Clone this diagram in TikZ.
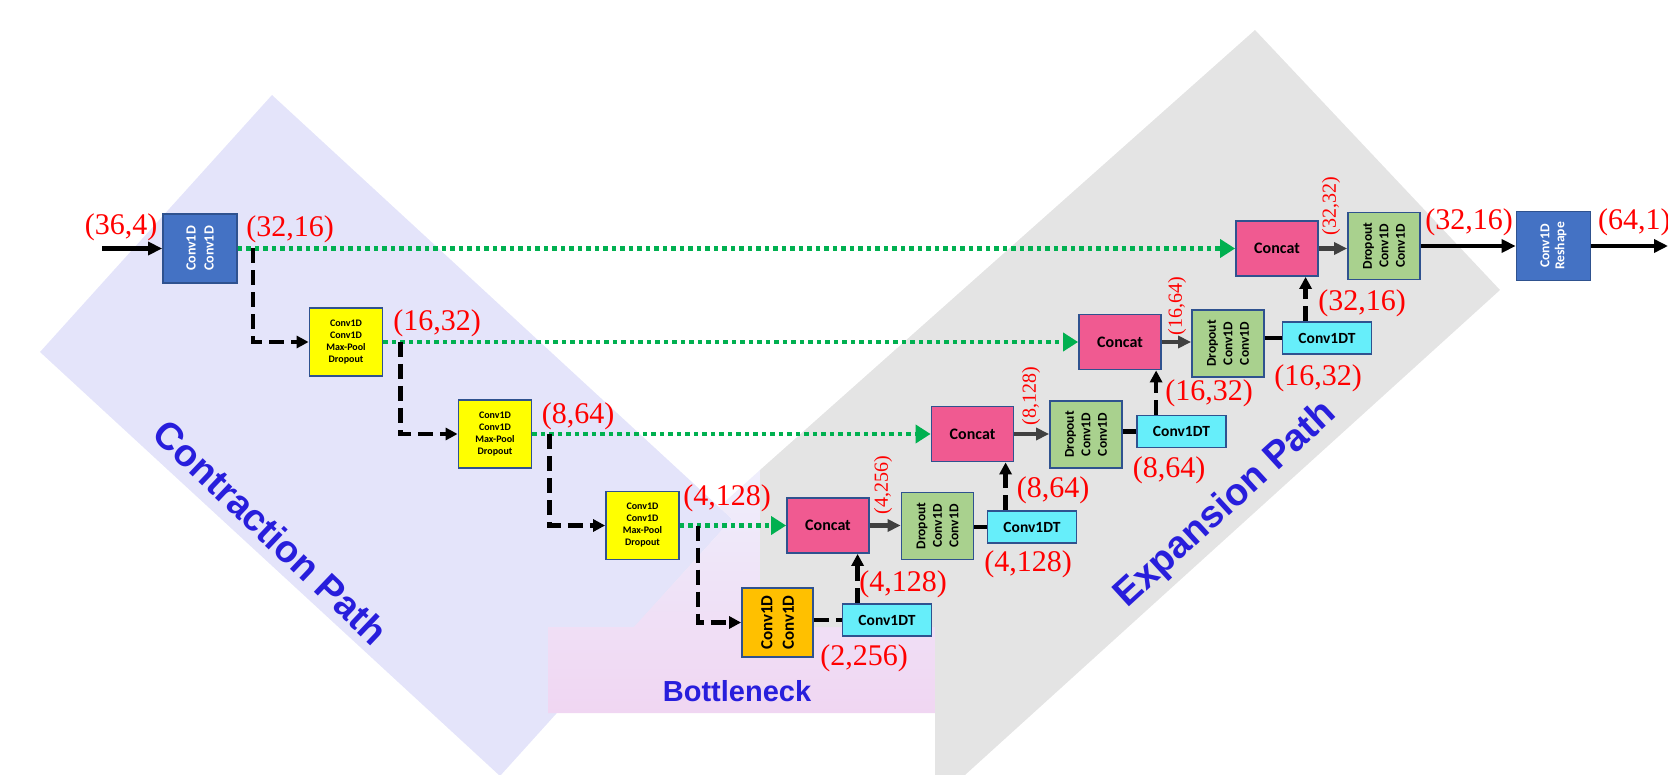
\documentclass[tikz,border=0pt]{standalone}
\usepackage{fontspec}
\setmainfont{Liberation Serif}
\newfontfamily\boxfont{Carlito}
\newfontfamily\titlefont{Liberation Sans}
\usetikzlibrary{arrows.meta,calc}

\definecolor{lav}{RGB}{228,228,250}
\definecolor{graybg}{RGB}{228,228,228}
\definecolor{pinkbg}{RGB}{240,214,242}
\definecolor{edgeblue}{RGB}{47,82,143}
\definecolor{bluefill}{RGB}{68,114,196}
\definecolor{yel}{RGB}{255,255,0}
\definecolor{orng}{RGB}{255,192,0}
\definecolor{pinkfill}{RGB}{240,90,145}
\definecolor{greenfill}{RGB}{169,209,142}
\definecolor{cyanfill}{RGB}{102,238,250}
\definecolor{skipgreen}{RGB}{0,176,80}
\definecolor{dimred}{RGB}{255,0,0}
\definecolor{pathblue}{RGB}{40,30,220}
\definecolor{arrowgray}{RGB}{64,64,64}

\begin{document}
\begin{tikzpicture}[x=1pt,y=-1pt,
  blk/.style={draw=edgeblue,line width=1.8pt,inner sep=0pt,align=center},
  enc/.style={blk,fill=bluefill,minimum width=74pt,minimum height=69pt},
  ylw/.style={blk,fill=yel,minimum width=73pt,minimum height=68pt,
    font={\boxfont\bfseries\fontsize{10}{12}\selectfont}},
  cat/.style={blk,fill=pinkfill,minimum width=82pt,minimum height=55pt,
    font={\boxfont\bfseries\fontsize{16}{18}\selectfont}},
  drp/.style={blk,fill=greenfill,minimum width=72pt,minimum height=67pt},
  upc/.style={blk,fill=cyanfill,minimum width=89pt,minimum height=32pt,
    font={\boxfont\bfseries\fontsize{15.5}{17}\selectfont}},
  btl/.style={blk,fill=orng,minimum width=71pt,minimum height=69pt},
  vtxt/.style={rotate=90,align=center,inner sep=0pt},
  dim/.style={text=dimred,inner sep=0pt,font=\fontsize{30}{30}\selectfont},
  dimv/.style={text=dimred,inner sep=0pt,rotate=90,font=\fontsize{20}{20}\selectfont},
  pathtxt/.style={text=pathblue,inner sep=0pt,font={\titlefont\bfseries\fontsize{38}{38}\selectfont}},
  skip/.style={skipgreen,line width=4.5pt,dash pattern=on 4.5pt off 4pt,
    -{Triangle[length=15pt,width=18pt]}},
  dsh/.style={black,line width=4.5pt,dash pattern=on 15pt off 7pt},
  dsha/.style={dsh,-{Triangle[length=12pt,width=12pt]}},
  gar/.style={arrowgray,line width=4.5pt,-{Triangle[length=13pt,width=12pt]}},
  sar/.style={black,line width=4.5pt,-{Triangle[length=14pt,width=13pt]}},
  lnk/.style={black,line width=4.5pt}
]
\useasboundingbox (0,0) rectangle (1668,775);
\clip (0,0) rectangle (1668,775);

% background regions
\fill[lav] (40,352) -- (272,95) -- (732,519) -- (500,776) -- cycle;
\shade[top color=lav!60!white,bottom color=pinkbg]
  (719,507) -- (760,470) -- (760,627) -- (935,627) -- (935,713)
  -- (548,713) -- (548,627) -- (634,627) -- (732,519) -- cycle;
\fill[graybg] (760,470) -- (1255,30) -- (1500,290) -- (965,775)
  -- (935,775) -- (935,627) -- (760,627) -- cycle;

\node[pathtxt,rotate=-43.5] (tcon) at (271,532) {Contraction Path};
\node[pathtxt,rotate=42.5] (texp) at (1226,505) {Expansion Path};
\node[pathtxt,font={\titlefont\bfseries\fontsize{29}{29}\selectfont}] (tbot) at (737,691) {Bottleneck};

% contraction path
\node[enc,label={[vtxt,text=white,font={\boxfont\bfseries\fontsize{14}{18}\selectfont}]center:{Conv1D\\Conv1D}}] (c1) at (200,248.5) {};
\node[ylw] (y1) at (346,342) {Conv1D\\Conv1D\\Max-Pool\\Dropout};
\node[ylw] (y2) at (495,434) {Conv1D\\Conv1D\\Max-Pool\\Dropout};
\node[ylw] (y3) at (642.5,525.5) {Conv1D\\Conv1D\\Max-Pool\\Dropout};

% bottleneck
\node[btl,label={[vtxt,font={\boxfont\bfseries\fontsize{17}{21.5}\selectfont}]center:{Conv1D\\Conv1D}}] (bn) at (777.5,622.5) {};
\node[upc] (u1) at (887,620) {Conv1DT};

% expansion path
\node[cat] (k1) at (828,525.5) {Concat};
\node[drp,label={[vtxt,font={\boxfont\bfseries\fontsize{13.5}{16.5}\selectfont}]center:{Dropout\\Conv1D\\Conv1D}}] (d1) at (937.5,526) {};
\node[upc] (u2) at (1032,527) {Conv1DT};

\node[cat] (k2) at (972.5,434) {Concat};
\node[drp,label={[vtxt,font={\boxfont\bfseries\fontsize{13.5}{16.5}\selectfont}]center:{Dropout\\Conv1D\\Conv1D}}] (d2) at (1086,434.5) {};
\node[upc] (u3) at (1181.5,431.5) {Conv1DT};

\node[cat] (k3) at (1120,342) {Concat};
\node[drp,label={[vtxt,font={\boxfont\bfseries\fontsize{13.5}{16.5}\selectfont}]center:{Dropout\\Conv1D\\Conv1D}}] (d3) at (1228,343.5) {};
\node[upc] (u4) at (1327,338) {Conv1DT};

\node[cat] (k4) at (1277,248.5) {Concat};
\node[drp,label={[vtxt,font={\boxfont\bfseries\fontsize{13.5}{16.5}\selectfont}]center:{Dropout\\Conv1D\\Conv1D}}] (d4) at (1384,246) {};
\node[enc,label={[vtxt,text=white,font={\boxfont\bfseries\fontsize{13.6}{15}\selectfont}]center:{Conv1D\\Reshape}}] (out) at (1553.5,246) {};

\coordinate (inp) at (102,248.5);
\coordinate (res) at (1668,246);

% skip connections
\draw[skip] (c1.east) -- (k4.west);
\draw[skip] (y1.east) -- (k3.west);
\draw[skip] (y2.east) -- (k2.west);
\draw[skip] (y3.east) -- (k1.west);

% down-sampling steps
\draw[dsha] ([xshift=15pt]c1.east) |- (y1.west);
\draw[dsha] ([xshift=17pt]y1.east) |- (y2.west);
\draw[dsha] ([xshift=17pt]y2.east) |- (y3.west);
\draw[dsha] ([xshift=18pt]y3.east) |- (bn.west);
\draw[dsh] (bn.east |- u1.west) -- (u1.west);

% up-sampling steps
\draw[dsha] ([xshift=16pt]u1.north west) -- ([xshift=16pt]u1.north west |- k1.south);
\draw[dsha] ([xshift=19pt]u2.north west) -- ([xshift=19pt]u2.north west |- k2.south);
\draw[dsha] ([xshift=20pt]u3.north west) -- ([xshift=20pt]u3.north west |- k3.south);
\draw[dsha] ([xshift=24pt]u4.north west) -- ([xshift=24pt]u4.north west |- k4.south);

\draw[gar] (k1.east) -- (k1.east -| d1.west);
\draw[gar] (k2.east) -- (k2.east -| d2.west);
\draw[gar] (k3.east) -- (k3.east -| d3.west);
\draw[gar] (k4.east) -- (k4.east -| d4.west);

\draw[lnk] (u2.west -| d1.east) -- (u2.west);
\draw[lnk] (u3.west -| d2.east) -- (u3.west);
\draw[lnk] (u4.west -| d3.east) -- (u4.west);

\draw[sar] (inp) -- (c1.west);
\draw[sar] (d4.east) -- (out.west);
\draw[sar] (out.east) -- (res);

% tensor shapes
\node[dim] (s0) at (121,227) {(36,4)};
\node[dim] (s1) at (290,229) {(32,16)};
\node[dim] (s2) at (437,323) {(16,32)};
\node[dim] (s3) at (578,416) {(8,64)};
\node[dim] (s4) at (727,498) {(4,128)};
\node[dim] (s5) at (864,658) {(2,256)};
\node[dim] (s6) at (903,584) {(4,128)};
\node[dimv] (s7) at (883,485) {(4,256)};
\node[dim] (s8) at (1028,564) {(4,128)};
\node[dim] (s9) at (1053,490) {(8,64)};
\node[dimv] (s10) at (1031,396) {(8,128)};
\node[dim] (s11) at (1169,470) {(8,64)};
\node[dim] (s12) at (1209,393) {(16,32)};
\node[dimv] (s13) at (1177,306) {(16,64)};
\node[dim] (s14) at (1318,378) {(16,32)};
\node[dim] (s15) at (1362,303) {(32,16)};
\node[dimv] (s16) at (1331,206) {(32,32)};
\node[dim] (s17) at (1469,222) {(32,16)};
\node[dim,anchor=west] (s18) at (1598,222) {(64,1)};
\end{tikzpicture}
\end{document}
